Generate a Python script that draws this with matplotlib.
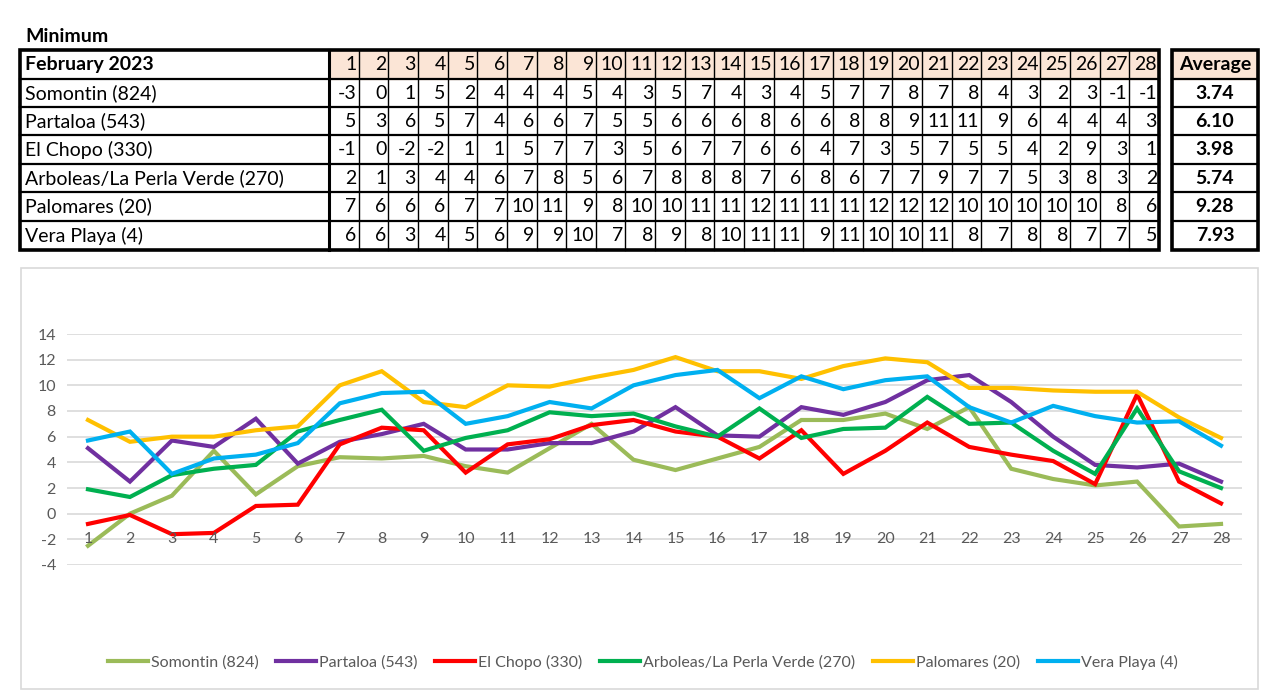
import numpy as np
import matplotlib.pyplot as plt
from matplotlib.patches import Rectangle

# --- data ---
days = list(range(1, 29))
stations = ["Somontin (824)", "Partaloa (543)", "El Chopo (330)",
            "Arboleas/La Perla Verde (270)", "Palomares (20)", "Vera Playa (4)"]
colors = ["#9BBB59", "#7030A0", "#FF0000", "#00B050", "#FFC000", "#00B0F0"]

# table (rounded values)
tab_somontin = [-3, 0, 1, 5, 2, 4, 4, 4, 5, 4, 3, 5, 7, 4, 3, 4, 5, 7, 7, 8, 7, 8, 4, 3, 2, 3, -1, -1]
tab_partaloa = [5, 3, 6, 5, 7, 4, 6, 6, 7, 5, 5, 6, 6, 6, 8, 6, 6, 8, 8, 9, 11, 11, 9, 6, 4, 4, 4, 3]
tab_chopo = [-1, 0, -2, -2, 1, 1, 5, 7, 7, 3, 5, 6, 7, 7, 6, 6, 4, 7, 3, 5, 7, 5, 5, 4, 2, 9, 3, 1]
tab_arboleas = [2, 1, 3, 4, 4, 6, 7, 8, 5, 6, 7, 8, 8, 8, 7, 6, 8, 6, 7, 7, 9, 7, 7, 5, 3, 8, 3, 2]
tab_palomares = [7, 6, 6, 6, 7, 7, 10, 11, 9, 8, 10, 10, 11, 11, 12, 11, 11, 11, 12, 12, 12, 10, 10, 10, 10, 10, 8, 6]
tab_vera = [6, 6, 3, 4, 5, 6, 9, 9, 10, 7, 8, 9, 8, 10, 11, 11, 9, 11, 10, 10, 11, 8, 7, 8, 8, 7, 7, 5]
averages = ["3.74", "6.10", "3.98", "5.74", "9.28", "7.93"]

# chart (unrounded values)
somontin = [-2.5, 0.0, 1.4, 4.9, 1.5, 3.7, 4.4, 4.3, 4.5, 3.7, 3.2, 5.1, 7.0, 4.2, 3.4, 4.3, 5.2, 7.3,
            7.3, 7.8, 6.6, 8.3, 3.5, 2.7, 2.2, 2.5, -1.0, -0.8]
partaloa = [5.1, 2.5, 5.7, 5.2, 7.4, 3.9, 5.6, 6.2, 7.0, 5.0, 5.0, 5.5, 5.5, 6.4, 8.3, 6.1, 6.0, 8.3,
            7.7, 8.7, 10.4, 10.8, 8.7, 6.0, 3.8, 3.6, 3.9, 2.5]
chopo = [-0.8, -0.1, -1.6, -1.5, 0.6, 0.7, 5.4, 6.7, 6.5, 3.2, 5.4, 5.8, 6.9, 7.3, 6.4, 6.0, 4.3, 6.5,
         3.1, 4.9, 7.1, 5.2, 4.6, 4.1, 2.3, 9.3, 2.5, 0.8]
arboleas = [1.9, 1.3, 3.0, 3.5, 3.8, 6.4, 7.3, 8.1, 4.9, 5.9, 6.5, 7.9, 7.6, 7.8, 6.8, 6.0, 8.2, 5.9,
            6.6, 6.7, 9.1, 7.0, 7.1, 4.9, 3.1, 8.2, 3.3, 2.0]
palomares = [7.3, 5.6, 6.0, 6.0, 6.5, 6.8, 10.0, 11.1, 8.7, 8.3, 10.0, 9.9, 10.6, 11.2, 12.2, 11.1, 11.1, 10.5,
             11.5, 12.1, 11.8, 9.8, 9.8, 9.6, 9.5, 9.5, 7.5, 5.9]
vera = [5.7, 6.4, 3.1, 4.3, 4.6, 5.5, 8.6, 9.4, 9.5, 7.0, 7.6, 8.7, 8.2, 10.0, 10.8, 11.2, 9.0, 10.7,
        9.7, 10.4, 10.7, 8.3, 7.1, 8.4, 7.6, 7.1, 7.2, 5.3]

table_rows = [tab_somontin, tab_partaloa, tab_chopo, tab_arboleas, tab_palomares, tab_vera]
series = [somontin, partaloa, chopo, arboleas, palomares, vera]

plt.rcParams['font.family'] = ['Lato', 'DejaVu Sans']
plt.rcParams['axes.unicode_minus'] = False

W, H = 1280, 694
fig = plt.figure(figsize=(W / 100, H / 100), dpi=100)

# --- table on a pixel-coordinate background axes ---
bg = fig.add_axes([0, 0, 1, 1])
bg.set_xlim(0, W)
bg.set_ylim(H, 0)
bg.axis('off')

peach = '#FBE5D6'
x0, x_name, x_end = 20, 329, 1159
row_y = [50, 79, 107, 135, 164, 192, 221, 250]
col_w = (x_end - x_name) / len(days)
fs_tab = 14

bg.text(25, 36, "Minimum", fontsize=fs_tab, fontweight='bold', va='center', ha='left')

# header fill
bg.add_patch(Rectangle((x_name, row_y[0]), x_end - x_name, row_y[1] - row_y[0], color=peach, zorder=0))
ax_l, ax_r = 1172, 1258
bg.add_patch(Rectangle((ax_l, row_y[0]), ax_r - ax_l, row_y[1] - row_y[0], color=peach, zorder=0))

# grid lines
for y in row_y[1:-1]:
    bg.plot([x0, x_end], [y, y], color='black', lw=1.6)
    bg.plot([ax_l, ax_r], [y, y], color='black', lw=1.6)
for i in range(1, len(days)):
    xc = x_name + i * col_w
    bg.plot([xc, xc], [row_y[0], row_y[-1]], color='black', lw=1.0)
bg.plot([x_name, x_name], [row_y[0], row_y[-1]], color='black', lw=2.2)
bg.add_patch(Rectangle((x0, row_y[0]), x_end - x0, row_y[-1] - row_y[0], fill=False, ec='black', lw=2.6))
bg.add_patch(Rectangle((ax_l, row_y[0]), ax_r - ax_l, row_y[-1] - row_y[0], fill=False, ec='black', lw=2.6))

# header text
hy = (row_y[0] + row_y[1]) / 2
bg.text(25, hy, "February 2023", fontsize=fs_tab, fontweight='bold', va='center', ha='left')
for i, d in enumerate(days):
    bg.text(x_name + (i + 1) * col_w - 2, hy, str(d), fontsize=fs_tab, va='center', ha='right')
bg.text((ax_l + ax_r) / 2, hy, "Average", fontsize=fs_tab, fontweight='bold', va='center', ha='center')

# body text
for r, (name, vals, avg) in enumerate(zip(stations, table_rows, averages)):
    yc = (row_y[r + 1] + row_y[r + 2]) / 2
    bg.text(25, yc, name, fontsize=fs_tab, va='center', ha='left')
    for i, v in enumerate(vals):
        bg.text(x_name + (i + 1) * col_w - 2, yc, str(v), fontsize=fs_tab, va='center', ha='right')
    bg.text((ax_l + ax_r) / 2, yc, avg, fontsize=fs_tab, fontweight='bold', va='center', ha='center')

# chart frame
bg.add_patch(Rectangle((21, 268), 1258 - 21, 689 - 268, fill=False, ec='#D9D9D9', lw=1.2))

# --- line chart ---
px_l, px_r, py_t, py_b = 67, 1242, 334, 565
ax = fig.add_axes([px_l / W, 1 - py_b / H, (px_r - px_l) / W, (py_b - py_t) / H])
ax.set_xlim(0.5, 28.5)
ax.set_ylim(-4, 14)
ax.set_yticks(np.arange(-4, 15, 2))
ax.yaxis.grid(True, color='#D9D9D9', lw=1.2)
ax.set_axisbelow(True)
for s in ax.spines.values():
    s.set_visible(False)
ax.tick_params(axis='y', length=0, labelsize=11.5, labelcolor='#595959', pad=8)
ax.set_xticks([])

for name, vals, c in zip(stations, series, colors):
    ax.plot(days, vals, color=c, lw=3, label=name, solid_joinstyle='miter')

# category labels sit on the -2 line
for d in days:
    ax.text(d, -2, str(d), fontsize=11.5, color='#595959', ha='center', va='center')

leg = ax.legend(loc='center', bbox_to_anchor=(0.49, (565 - 662) / (565 - 334)), ncol=6, frameon=False,
                fontsize=11.5, handlelength=2.5, handletextpad=0.2, columnspacing=1.1)
for t in leg.get_texts():
    t.set_color('#595959')

fig.savefig('out.png', dpi=100)
